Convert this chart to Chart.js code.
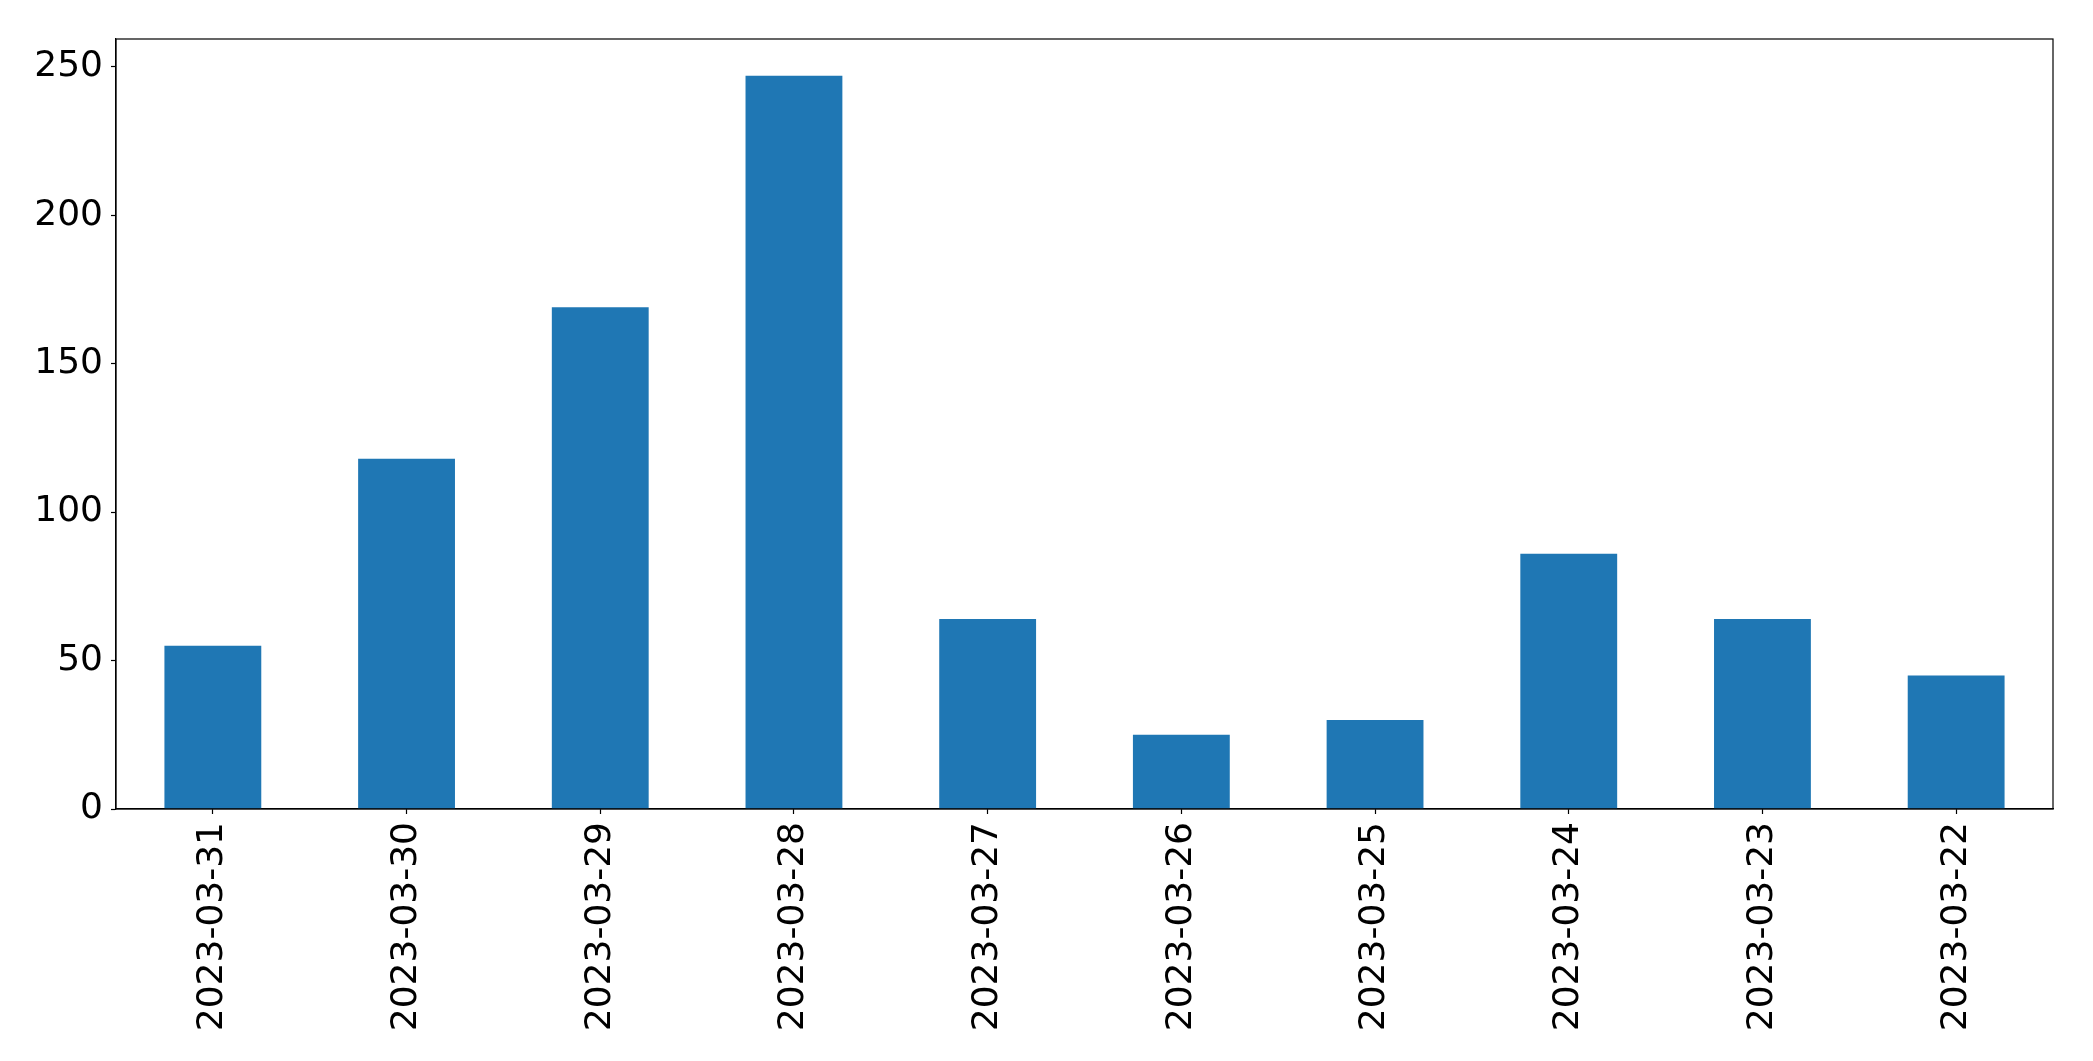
<!DOCTYPE html>
<html>
<head>
<meta charset="utf-8">
<script src="https://cdn.jsdelivr.net/npm/chart.js@4"></script>
<style>
  html, body { margin: 0; padding: 0; background: #fff; }
  #wrap { width: 2093px; height: 1061px; }
</style>
</head>
<body>
<div id="wrap"><canvas id="chart" width="2093" height="1061"></canvas></div>
<script>
// ── DATA ──────────────────────────────────────────────────────────────────────
const dates = ['2023-03-31', '2023-03-30', '2023-03-29', '2023-03-28', '2023-03-27',
               '2023-03-26', '2023-03-25', '2023-03-24', '2023-03-23', '2023-03-22'];
const counts = [55, 118, 169, 247, 64, 25, 30, 86, 64, 45];
const yTicks = [0, 50, 100, 150, 200, 250];

// ── FRAME (top + right spines) ────────────────────────────────────────────────
const frame = {
  id: 'frame',
  afterDraw(chart) {
    const { ctx, chartArea: a } = chart;
    ctx.save();
    ctx.strokeStyle = '#000';
    ctx.lineWidth = 1.2;
    ctx.strokeRect(a.left, a.top, a.right - a.left, a.bottom - a.top);
    ctx.restore();
  }
};

const font = { family: '"DejaVu Sans", sans-serif', size: 36 };

new Chart(document.getElementById('chart'), {
  type: 'bar',
  data: {
    labels: dates,
    datasets: [{
      data: counts,
      backgroundColor: '#1f77b4',
      categoryPercentage: 1,
      barPercentage: 0.5
    }]
  },
  options: {
    responsive: false,
    animation: false,
    layout: { padding: { top: 39, right: 40, left: 0, bottom: 0 } },
    plugins: { legend: { display: false }, tooltip: { enabled: false } },
    scales: {
      x: {
        afterFit: s => { s.height = 252; },
        grid: { offset: false, drawOnChartArea: false, tickLength: 5, color: '#000', tickWidth: 1.2 },
        border: { display: true, color: '#000', width: 1.2 },
        ticks: { color: '#000', font, minRotation: 90, maxRotation: 90, padding: 8, autoSkip: false }
      },
      y: {
        min: 0,
        max: 259.35,
        afterFit: s => { s.width = 116; },
        afterBuildTicks: s => { s.ticks = yTicks.map(v => ({ value: v })); },
        grid: { drawOnChartArea: false, tickLength: 5, color: '#000', tickWidth: 1.2 },
        border: { display: true, color: '#000', width: 1.2 },
        ticks: { color: '#000', font, padding: 8 }
      }
    }
  },
  plugins: [frame]
});
</script>
</body>
</html>
